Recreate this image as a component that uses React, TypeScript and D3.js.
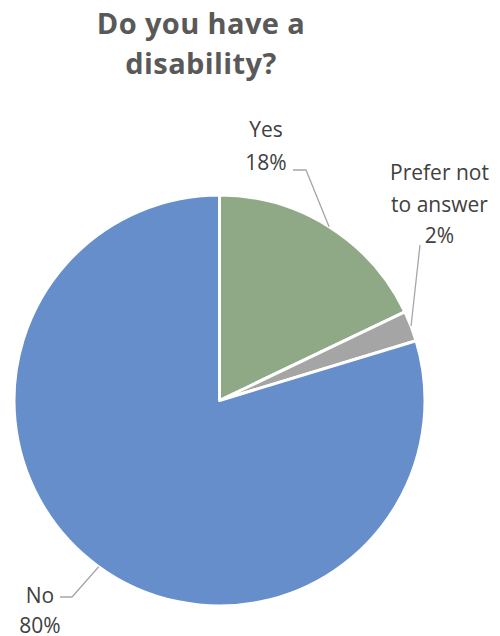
import React from "react";
import * as d3 from "d3";

const categories = ["Yes", "Prefer not to answer", "No"];
const values = [17.9, 2.4, 79.7];
const colors = ["#8FA987", "#A5A5A5", "#668ECB"];
const labelLines = [["Yes"], ["Prefer not", "to answer"], ["No"]];
const titleLines = ["Do you have a", "disability?"];

const W = 500;
const H = 636;
const cx = 219.5;
const cy = 400.5;
const R = 205.5;

// label layout: text center x, first baseline y, line height, leader start/elbow, position along slice edge
const labelLayout = [
  { x: 266, y: 137, lineH: 33, leaderStart: [293, 170], elbow: [306, 170], edgeAngle: null as number | null, frac: 0.5 },
  { x: 439.5, y: 180, lineH: 31.5, leaderStart: [420, 245], elbow: [420, 245], edgeAngle: null as number | null, frac: 0.5 },
  { x: 40, y: 603, lineH: 30, leaderStart: [60, 597], elbow: [72, 597], edgeAngle: 0.6, frac: 0 },
];

export default function App() {
  const pie = d3.pie<number>().sort(null).value((d) => d)(values);
  const arc = d3.arc<d3.PieArcDatum<number>>().innerRadius(0).outerRadius(R);
  const total = d3.sum(values);

  return (
    <svg width={W} height={H} style={{ position: "absolute", left: 0, top: 0, background: "#fff" }}>
      <g fontFamily="'Open Sans', 'Noto Sans', sans-serif">
        {titleLines.map((t, i) => (
          <text key={i} x={201} y={33.5 + i * 40.5} textAnchor="middle" fontSize={29} fontWeight="bold" fill="#595959" letterSpacing={0.4}>
            {t}
          </text>
        ))}
        <g transform={`translate(${cx},${cy})`}>
          {pie.map((p, i) => (
            <path key={i} d={arc(p) || ""} fill={colors[i]} stroke="#fff" strokeWidth={3} strokeLinejoin="round" />
          ))}
        </g>
        {pie.map((p, i) => {
          const L = labelLayout[i];
          const a = L.edgeAngle !== null ? 2 * Math.PI * L.edgeAngle : p.startAngle + (p.endAngle - p.startAngle) * L.frac;
          const ex = cx + Math.sin(a) * R;
          const ey = cy - Math.cos(a) * R;
          const pct = Math.round((values[i] / total) * 100) + "%";
          const lines = [...labelLines[i], pct];
          return (
            <g key={i}>
              <polyline
                points={`${L.leaderStart[0]},${L.leaderStart[1]} ${L.elbow[0]},${L.elbow[1]} ${ex},${ey}`}
                fill="none"
                stroke="#A6A6A6"
                strokeWidth={1.3}
              />
              {lines.map((t, j) => (
                <text key={j} x={L.x} y={L.y + j * L.lineH} textAnchor="middle" fontSize={21} fill="#404040">
                  {t}
                </text>
              ))}
            </g>
          );
        })}
      </g>
    </svg>
  );
}
